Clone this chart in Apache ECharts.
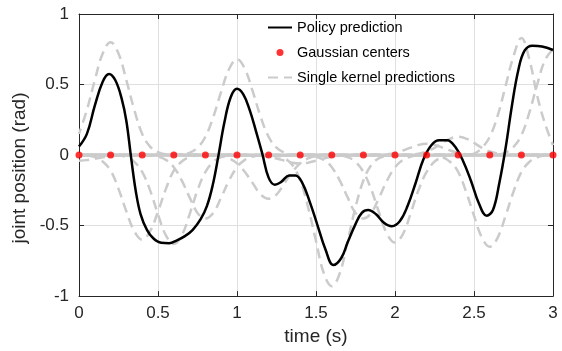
<!DOCTYPE html>
<html>
<head>
<meta charset="utf-8">
<script src="https://cdn.jsdelivr.net/npm/echarts@6/dist/echarts.min.js"></script>
<style>
  html, body { margin: 0; padding: 0; background: #fff; }
  #chart { width: 562px; height: 351px; }
</style>
</head>
<body>
<div id="chart"></div>
<script>
// policy prediction (black line)
const policyTime = [0,0.05,0.10,0.15,0.19,0.23,0.27,0.30,0.33,0.36,0.39,0.43,0.47,0.52,0.57,0.62,0.67,0.72,0.77,0.81,0.845,0.88,0.92,0.96,1.00,1.04,1.08,1.12,1.16,1.20,1.24,1.28,1.33,1.37,1.41,1.46,1.51,1.56,1.61,1.66,1.70,1.75,1.79,1.83,1.88,1.93,1.98,2.03,2.08,2.13,2.18,2.23,2.28,2.33,2.38,2.43,2.48,2.53,2.58,2.62,2.66,2.70,2.74,2.78,2.82,2.87,2.93,3.00];
const policyValue = [0.06,0.15,0.35,0.52,0.575,0.53,0.40,0.24,-0.02,-0.26,-0.42,-0.53,-0.59,-0.622,-0.625,-0.605,-0.575,-0.53,-0.455,-0.36,-0.22,-0.02,0.23,0.41,0.47,0.43,0.32,0.17,0.01,-0.16,-0.21,-0.19,-0.145,-0.145,-0.19,-0.33,-0.5,-0.67,-0.78,-0.73,-0.62,-0.49,-0.41,-0.39,-0.42,-0.48,-0.505,-0.47,-0.36,-0.2,-0.03,0.07,0.105,0.105,0.06,-0.04,-0.18,-0.34,-0.43,-0.39,-0.2,0.05,0.35,0.6,0.74,0.775,0.77,0.745];

// gaussian centers (red dots)
const centerTime = [0,0.2,0.4,0.6,0.8,1.0,1.2,1.4,1.6,1.8,2.0,2.2,2.4,2.6,2.8,3.0];
const centerValue = [0,0,0,0,0,0,0,0,0,0,0,0,0,0,0,0];

// single kernel predictions, sampled around each center
const kernelOffsets = [-0.35,-0.3,-0.25,-0.2,-0.15,-0.1,-0.05,0,0.05,0.1,0.15,0.2,0.25,0.3,0.35];
const kernelValues = [
  [0,-0.001,-0.003,-0.008,-0.016,-0.026,-0.036,-0.04,-0.036,-0.026,-0.016,-0.008,-0.003,-0.001,0],
  [0.005,0.02,0.06,0.15,0.32,0.53,0.72,0.80,0.72,0.53,0.32,0.15,0.06,0.02,0.005],
  [-0.004,-0.014,-0.046,-0.11,-0.24,-0.40,-0.54,-0.60,-0.54,-0.40,-0.24,-0.11,-0.046,-0.014,-0.004],
  [-0.004,-0.015,-0.048,-0.12,-0.25,-0.42,-0.57,-0.63,-0.57,-0.42,-0.25,-0.12,-0.048,-0.015,-0.004],
  [-0.003,-0.011,-0.034,-0.086,-0.18,-0.30,-0.41,-0.45,-0.41,-0.30,-0.18,-0.086,-0.034,-0.011,-0.003],
  [0.004,0.016,0.052,0.13,0.27,0.45,0.61,0.68,0.61,0.45,0.27,0.13,0.052,0.016,0.004],
  [-0.002,-0.007,-0.024,-0.059,-0.12,-0.20,-0.28,-0.31,-0.28,-0.20,-0.12,-0.059,-0.024,-0.007,-0.002],
  [0,-0.001,-0.005,-0.011,-0.024,-0.04,-0.054,-0.06,-0.054,-0.04,-0.024,-0.011,-0.005,-0.001,0],
  [-0.006,-0.022,-0.071,-0.18,-0.37,-0.61,-0.84,-0.93,-0.84,-0.61,-0.37,-0.18,-0.071,-0.022,-0.006],
  [-0.003,-0.011,-0.034,-0.086,-0.18,-0.30,-0.41,-0.45,-0.41,-0.30,-0.18,-0.086,-0.034,-0.011,-0.003],
  [-0.004,-0.015,-0.047,-0.12,-0.245,-0.41,-0.56,-0.62,-0.56,-0.41,-0.245,-0.12,-0.047,-0.015,-0.004],
  [0,0.002,0.006,0.015,0.032,0.053,0.072,0.08,0.072,0.053,0.032,0.015,0.006,0.002,0],
  [0.001,0.003,0.01,0.025,0.051,0.086,0.117,0.13,0.117,0.086,0.051,0.025,0.01,0.003,0.001],
  [-0.004,-0.016,-0.049,-0.12,-0.26,-0.43,-0.585,-0.65,-0.585,-0.43,-0.26,-0.12,-0.049,-0.016,-0.004],
  [0,0.01,0.05,0.13,0.28,0.49,0.70,0.83,0.68,0.42,0.22,0.07,0.02,0.005,0],
  [0.005,0.018,0.057,0.14,0.30,0.50,0.675,0.75,0.675,0.50,0.30,0.14,0.057,0.018,0.005]
];

const font = 'Liberation Sans, Arial, Helvetica, sans-serif';
const axisColor = '#262626';
const gridColor = '#dfdfdf';

function kernelData(k) {
  const c = centerTime[k];
  const pts = [];
  kernelOffsets.forEach(function (off, j) {
    const t = +(c + off).toFixed(2);
    if (t >= 0 && t <= 3) pts.push([t, kernelValues[k][j]]);
  });
  if (pts[0][0] > 0) pts.unshift([0, 0]);
  if (pts[pts.length - 1][0] < 3) pts.push([3, 0]);
  return pts;
}

const series = [];
centerTime.forEach(function (c, k) {
  series.push({
    name: 'Single kernel predictions',
    type: 'line',
    data: kernelData(k),
    smooth: 0.4,
    symbol: 'none',
    z: 2,
    lineStyle: { color: '#cbcbcb', width: 2.5, type: [10, 6], dashOffset: k * 4, cap: 'butt' },
    itemStyle: { color: '#cbcbcb' }
  });
});
series.push({
  name: 'Policy prediction',
  type: 'line',
  data: policyTime.map(function (t, i) { return [t, policyValue[i]]; }),
  smooth: 0.4,
  symbol: 'none',
  z: 3,
  lineStyle: { color: '#000', width: 2.5 },
  itemStyle: { color: '#000' }
});
series.push({
  name: 'Gaussian centers',
  type: 'scatter',
  data: centerTime.map(function (t, i) { return [t, centerValue[i]]; }),
  symbol: 'circle',
  symbolSize: 7,
  z: 4,
  itemStyle: { color: '#ff0000' }
});

function mainAxis(extra) {
  return Object.assign({
    type: 'value',
    axisLine: { show: true, onZero: false, lineStyle: { color: axisColor, width: 1 } },
    axisTick: { show: true, inside: true, length: 5, lineStyle: { color: axisColor } },
    axisLabel: { fontSize: 17, color: axisColor, fontFamily: font },
    splitLine: { show: true, lineStyle: { color: gridColor, width: 1 } },
    nameLocation: 'middle',
    nameTextStyle: { fontSize: 19, color: axisColor, fontFamily: font }
  }, extra);
}
function frameAxis(extra) {
  return Object.assign({
    type: 'value',
    axisLine: { show: true, onZero: false, lineStyle: { color: axisColor, width: 1 } },
    axisTick: { show: true, inside: true, length: 5, lineStyle: { color: axisColor } },
    axisLabel: { show: false },
    splitLine: { show: false }
  }, extra);
}

const chart = echarts.init(document.getElementById('chart'));
chart.setOption({
  animation: false,
  backgroundColor: '#fff',
  grid: { left: 79, right: 9, top: 14, bottom: 53, containLabel: false },
  legend: {
    data: [
      { name: 'Policy prediction', itemStyle: { opacity: 0 } },
      { name: 'Gaussian centers' },
      { name: 'Single kernel predictions', itemStyle: { opacity: 0 } }
    ],
    orient: 'vertical',
    left: 267,
    top: 20,
    padding: 0,
    itemWidth: 24,
    itemHeight: 7,
    itemGap: 10,
    textStyle: { fontSize: 14.5, color: '#000', fontFamily: font, lineHeight: 14 }
  },
  xAxis: [
    mainAxis({ min: 0, max: 3, interval: 0.5, position: 'bottom', name: 'time (s)', nameGap: 24,
      axisLabel: { fontSize: 17, color: axisColor, fontFamily: font, margin: 9 } }),
    frameAxis({ min: 0, max: 3, interval: 0.5, position: 'top' })
  ],
  yAxis: [
    mainAxis({ min: -1, max: 1, interval: 0.5, position: 'left', name: 'joint position (rad)', nameGap: 43,
      axisLabel: { fontSize: 17, color: axisColor, fontFamily: font, margin: 10 },
      nameTextStyle: { fontSize: 19, color: axisColor, fontFamily: font, padding: [0, 26, 0, 0] } }),
    frameAxis({ min: -1, max: 1, interval: 0.5, position: 'right' })
  ],
  series: series
});
</script>
</body>
</html>
